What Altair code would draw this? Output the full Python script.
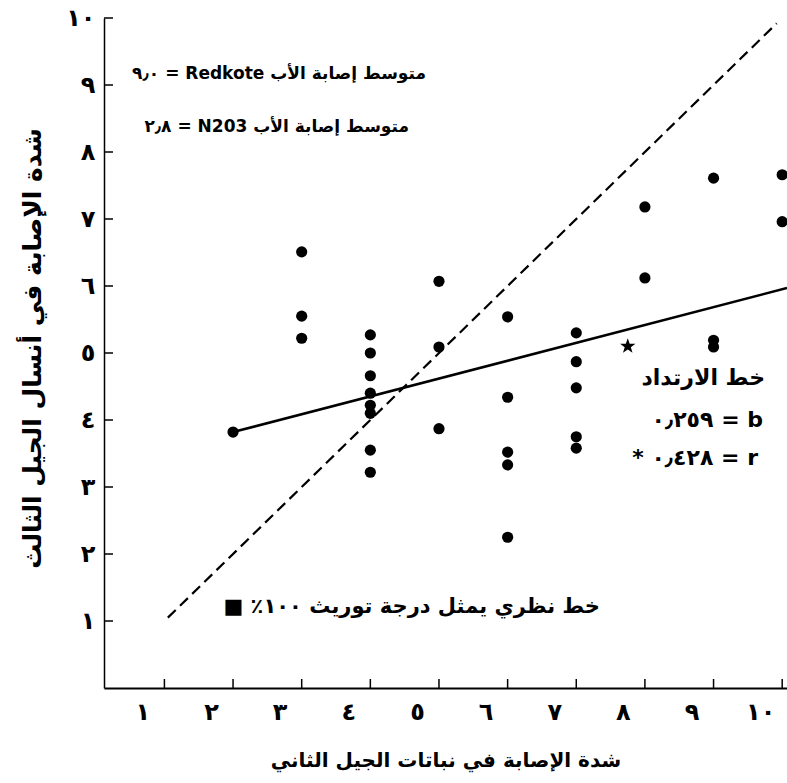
import altair as alt
import pandas as pd

# ---- data ----
x_vals = [2,
          3, 3, 3,
          4, 4, 4, 4, 4, 4, 4, 4,
          5, 5, 5,
          6, 6, 6, 6, 6,
          7, 7, 7, 7, 7,
          8, 8,
          9, 9, 9,
          10, 10]
y_vals = [3.82,
          6.51, 5.55, 5.22,
          5.27, 5.00, 4.66, 4.40, 4.22, 4.10, 3.55, 3.22,
          6.07, 5.09, 3.87,
          5.54, 4.34, 3.52, 3.33, 2.25,
          5.30, 4.87, 4.48, 3.75, 3.58,
          7.18, 6.12,
          7.61, 5.19, 5.09,
          7.66, 6.96]
star_x = [7.75]
star_y = [5.10]

diag_x = [1.05, 9.92]          # 100% heritability line: y = x
reg_x = [2.0, 10.07]           # regression line end points
reg_y = [3.82, 5.97]

x_ticks = [1, 2, 3, 4, 5, 6, 7, 8, 9, 10]
y_ticks = [1, 2, 3, 4, 5, 6, 7, 8, 9, 10]
x_tick_labels = ['١', '٢', '٣', '٤', '٥', '٦', '٧', '٨', '٩', '١٠']
y_tick_labels = ['١', '٢', '٣', '٤', '٥', '٦', '٧', '٨', '٩', '١٠']

x_title = 'شدة الإصابة في نباتات الجيل الثاني'
y_title = 'شدة الإصابة في أنسال الجيل الثالث'

RLE, PDF = '\u202B', '\u202C'
def rtl(s):
    return RLE + s + PDF

ann_parent1 = 'متوسط إصابة الأب Redkote = ٩٫٠'
ann_parent2 = 'متوسط إصابة الأب N203 = ٢٫٨'
ann_reg = 'خط الارتداد'
ann_b = 'b = ٠٫٢٥٩'
ann_r = 'r = ٠٫٤٢٨ *'
ann_diag = 'خط نظري يمثل درجة توريث ١٠٠٪ ■'

FONT = 'DejaVu Sans'
W, H = 683, 670
STAR = ('M0,-1L0.24,-0.33L0.95,-0.31L0.38,0.12L0.59,0.81L0,0.4'
        'L-0.59,0.81L-0.38,0.12L-0.95,-0.31L-0.24,-0.33Z')

xs = alt.Scale(domain=[0.12, 10.07], nice=False, zero=False)
ys = alt.Scale(domain=[0, 10], nice=False, zero=False)

def expr_labels(lbls):
    return '[' + ','.join("'%s'" % s for s in lbls) + '][datum.value - 1]'

x_axis = alt.Axis(values=x_ticks, title=x_title, labelExpr=expr_labels(x_tick_labels),
                  ticks=False, tickSize=0, grid=False, domainColor='black', domainWidth=2,
                  labelFont=FONT, labelFontSize=24, labelFontWeight='bold', labelColor='black',
                  labelOffset=-22, labelPadding=12, labelFlush=False, labelOverlap=False,
                  titleFont=FONT, titleFontSize=20, titleFontWeight='bold', titleColor='black',
                  titleY=72, titleBaseline='middle')
y_axis = alt.Axis(values=y_ticks, title=y_title, labelExpr=expr_labels(y_tick_labels),
                  ticks=False, tickSize=0, grid=False, domainColor='black', domainWidth=1.5,
                  labelFont=FONT, labelFontSize=24, labelFontWeight='bold', labelColor='black',
                  labelPadding=9, labelFlush=False, labelOverlap=False, labelBaseline='middle',
                  titleFont=FONT, titleFontSize=25, titleFontWeight='bold', titleColor='black',
                  titleX=-72, titleY=330, titleAngle=270, titleAlign='center', titleBaseline='middle')

X = lambda f: alt.X(f, scale=xs, axis=x_axis)
Y = lambda f: alt.Y(f, scale=ys, axis=y_axis)

pts = alt.Chart(pd.DataFrame({'x': x_vals, 'y': y_vals})).mark_point(
    filled=True, shape='circle', size=125, color='black', opacity=1, clip=True
).encode(x=X('x:Q'), y=Y('y:Q'))

star = alt.Chart(pd.DataFrame({'x': star_x, 'y': star_y})).mark_point(
    filled=True, shape=STAR, size=260, color='black', opacity=1
).encode(x=X('x:Q'), y=Y('y:Q'))

diag = alt.Chart(pd.DataFrame({'x': diag_x, 'y': diag_x})).mark_line(
    color='black', strokeWidth=2.2, strokeDash=[11, 6]
).encode(x=X('x:Q'), y=Y('y:Q'))

reg = alt.Chart(pd.DataFrame({'x': reg_x, 'y': reg_y})).mark_line(
    color='black', strokeWidth=2.6, clip=True
).encode(x=X('x:Q'), y=Y('y:Q'))

xt = alt.Chart(pd.DataFrame({'x': x_ticks})).mark_rule(color='black', strokeWidth=1.5).encode(
    x=X('x:Q'), y=alt.value(H), y2=alt.value(H - 9))
yt = alt.Chart(pd.DataFrame({'y': y_ticks})).mark_rule(color='black', strokeWidth=1.5).encode(
    y=Y('y:Q'), x=alt.value(0), x2=alt.value(9))

def label(text, px, py, size=19, align='right'):
    return alt.Chart(pd.DataFrame({'t': [rtl(text)]})).mark_text(
        font=FONT, fontSize=size, fontWeight='bold', color='black', align=align, baseline='middle'
    ).encode(text='t:N', x=alt.value(px), y=alt.value(py))

texts = [
    label(ann_parent1, 322, 56, 17),
    label(ann_parent2, 305, 109, 17),
    label(ann_reg, 661, 360, 22),
    label(ann_b, 659, 402, 22),
    label(ann_r, 654, 440, 22),
    label(ann_diag, 496, 589, 21),
]

chart = alt.layer(pts, diag, reg, xt, yt, star, *texts).properties(
    width=W, height=H,
    autosize=alt.AutoSizeParams(type='none'),
    padding={'left': 104, 'top': 18, 'right': 0, 'bottom': 95},
    background='white'
).configure_view(stroke=None)

chart.save('out.html', embed_options={'renderer': 'svg', 'actions': False})
